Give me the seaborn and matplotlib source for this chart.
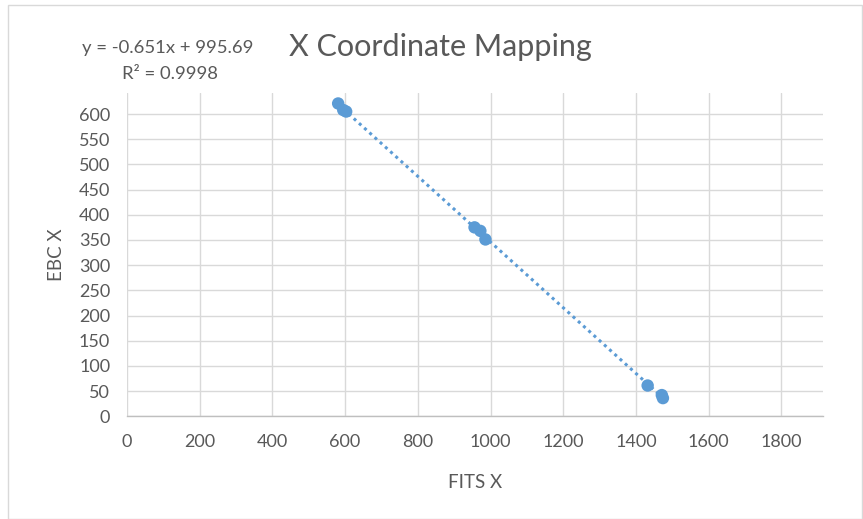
import matplotlib
matplotlib.use("Agg")
import matplotlib.pyplot as plt
from matplotlib.patches import Rectangle
import seaborn as sns
import pandas as pd

fits_x = [581, 595, 603, 956, 972, 986, 1432, 1471, 1474]
ebc_x = [621, 608, 605, 375, 368, 351, 61, 42, 36]
x_ticks = [0, 200, 400, 600, 800, 1000, 1200, 1400, 1600, 1800]
y_ticks = [0, 50, 100, 150, 200, 250, 300, 350, 400, 450, 500, 550, 600]

df = pd.DataFrame({"FITS X": fits_x, "EBC X": ebc_x})

sns.set_theme(style="white")
plt.rcParams["font.family"] = ["Lato", "DejaVu Sans"]

fig = plt.figure(figsize=(8.63, 5.19), dpi=100)
ax = fig.add_axes([0.147, 0.198, 0.807, 0.623])

blue = "#5b9bd5"
grey = "#595959"

sns.regplot(data=df, x="FITS X", y="EBC X", ax=ax, ci=None, color=blue,
            scatter_kws=dict(s=80, alpha=1, edgecolor="none", zorder=3),
            line_kws=dict(ls=(0, (1, 1.3)), lw=2.2, zorder=2))

ax.set_xlim(0, 1915)
ax.set_ylim(0, 642)
ax.set_xticks(x_ticks)
ax.set_yticks(y_ticks)
ax.grid(True, color="#d9d9d9", lw=1)
ax.set_axisbelow(True)
for s in ["top", "right", "left"]:
    ax.spines[s].set_visible(False)
ax.spines["bottom"].set_color("#bfbfbf")
ax.spines["bottom"].set_linewidth(1)
ax.tick_params(axis="both", colors=grey, labelsize=13, length=0)
ax.tick_params(axis="x", pad=13)
ax.tick_params(axis="y", pad=12)
ax.set_xlabel("FITS X", color=grey, fontsize=13.5, labelpad=17)
ax.set_ylabel("EBC X", color=grey, fontsize=13.5, labelpad=10)

fig.text(0.51, 0.91, "X Coordinate Mapping", ha="center", va="center",
         fontsize=22, color=grey)
fig.text(0.095, 0.907, "y = -0.651x + 995.69", ha="left", va="center",
         fontsize=13.3, color=grey)
fig.text(0.141, 0.857, "R² = 0.9998", ha="left", va="center",
         fontsize=13.3, color=grey)

fig.patches.append(Rectangle((0.009, 0.0), 0.99, 0.99, transform=fig.transFigure,
                             fill=False, edgecolor="#d9d9d9", lw=1))

fig.savefig("out.png", dpi=100, facecolor="white")
